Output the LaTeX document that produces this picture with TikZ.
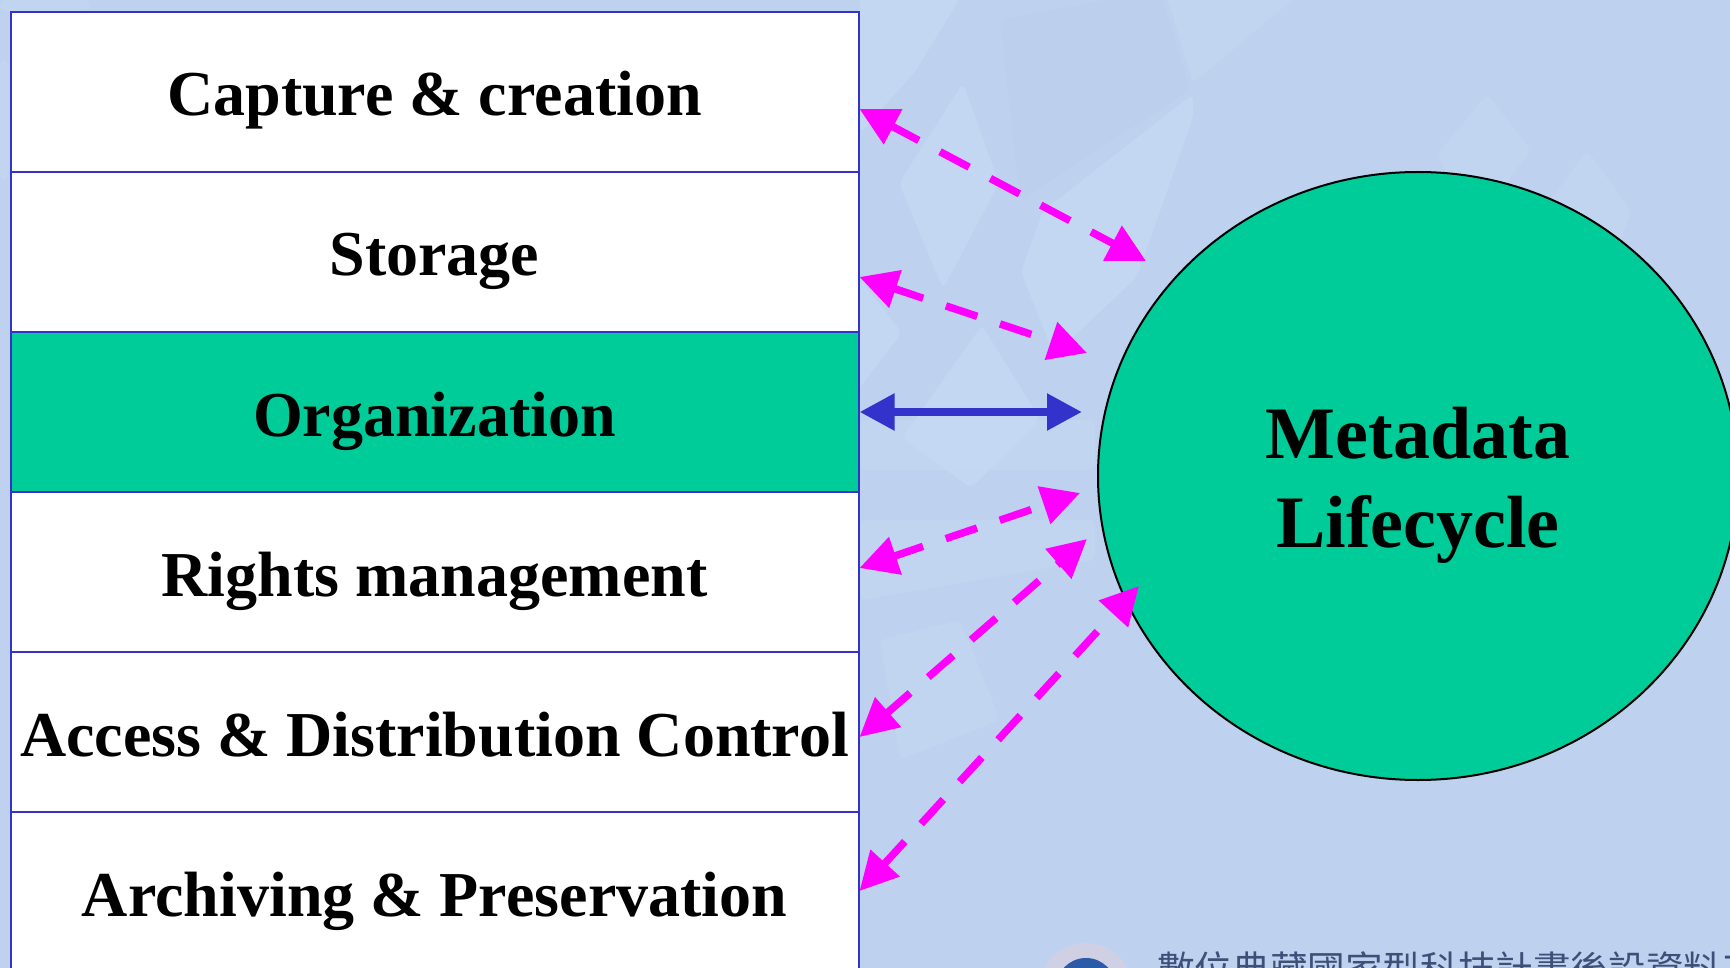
\documentclass[tikz,border=0pt]{standalone}
\usepackage{fontspec}
\setmainfont{Liberation Serif}
\newfontfamily\cjkfont{Noto Sans CJK TC}
\usetikzlibrary{arrows.meta,shapes.geometric}
\definecolor{bgblue}{HTML}{BED2EF}
\definecolor{bglight}{HTML}{C8DCF7}
\definecolor{bgdark}{HTML}{BACEEB}
\definecolor{rowline}{HTML}{3333CC}
\definecolor{teal}{HTML}{00CC99}
\definecolor{magentaline}{HTML}{FF00FF}
\definecolor{footertext}{HTML}{3F5078}
\definecolor{logoring}{HTML}{CFD0E4}
\definecolor{logocore}{HTML}{2A5AA8}
\tikzset{
  rowbox/.style={draw=rowline,line width=2pt,fill=white,minimum width=848pt,minimum height=160pt,inner sep=0pt,
    text height=48pt,text depth=0pt,font=\fontsize{64}{64}\selectfont\bfseries,anchor=north west},
  greenrow/.style={rowbox,fill=teal},
  lifecycle/.style={ellipse,draw=black,line width=2pt,fill=teal,minimum width=640pt,minimum height=608pt,inner sep=0pt,
    align=center,text height=159pt,font=\fontsize{74}{89}\selectfont\bfseries},
  duplex/.style={magentaline,line width=7.5pt,dash pattern=on 33pt off 24pt,dash phase=2pt,
    {Triangle[length=38pt,width=38pt]}-{Triangle[length=38pt,width=38pt]}},
  solidduplex/.style={rowline,line width=8.3pt,{Triangle[length=35pt,width=35pt]}-{Triangle[length=35pt,width=35pt]}},
  bgshape/.style={fill=bglight,rounded corners=6pt,opacity=.5},
  darkshape/.style={fill=bgdark,rounded corners=6pt,opacity=.35}
}
\begin{document}
\begin{tikzpicture}[x=1pt,y=-1pt]
\useasboundingbox (0,0) rectangle (1730,968);
\clip (0,0) rectangle (1730,968);
\fill[bgblue] (0,0) rectangle (1730,968);
% faint background texture
\fill[bgshape] (860,-10) -- (965,-10) -- (915,72) -- (860,133) -- cycle;
\fill[bgshape] (963,83) -- (999,183) -- (943,289) -- (899,183) -- cycle;
\fill[bgshape] (982,325) -- (1040,419) -- (971,488) -- (902,438) -- cycle;
\fill[bgshape] (1043,211) -- (1193,94) -- (1193,117) -- (1137,277) -- (1054,355) -- (1021,272) -- cycle;
\fill[bgshape] (1137,377) -- (1215,289) -- (1260,344) -- (1171,438) -- cycle;
\fill[bgshape,opacity=.35] (1437,155) -- (1487,94) -- (1531,150) -- (1476,222) -- cycle;
\fill[bgshape,opacity=.35] (1543,211) -- (1587,150) -- (1631,211) -- (1598,300) -- cycle;
\fill[bgshape,opacity=.35] (1620,377) -- (1665,311) -- (1706,366) -- (1676,411) -- cycle;
\fill[bgshape,opacity=.35] (1337,277) -- (1382,205) -- (1415,255) -- (1359,294) -- cycle;
\fill[bgshape,opacity=.35] (1165,-10) -- (1304,-10) -- (1193,83) -- cycle;
\fill[bgshape] (850,266) -- (902,333) -- (850,400) -- cycle;
\fill[darkshape] (1000,20) -- (1160,-10) -- (1190,90) -- (1020,200) -- cycle;
\fill[bgshape,opacity=.3] (860,420) -- (1095,420) -- (1095,470) -- (860,470) -- cycle;
\fill[bgshape,opacity=.3] (860,520) -- (1095,520) -- (1095,560) -- (860,600) -- cycle;
\fill[bgshape,opacity=.3] (880,640) -- (960,620) -- (1000,720) -- (900,760) -- cycle;
\fill[bgshape,opacity=.3] (0,0) rectangle (90,11);
\fill[bgshape,opacity=.3] (0,60) rectangle (9,180);
% footer
\fill[logoring] (1086,990) circle[radius=47pt];
\fill[logocore] (1086,988) circle[radius=30pt];
\node[anchor=north west,inner sep=0pt,font=\cjkfont\fontsize{37.6}{38}\selectfont,text=footertext] (footer) at (1157,951) {數位典藏國家型科技計畫後設資料工作組};
% rows
\node[rowbox] (r1) at (9.5,11) {Capture \& creation};
\node[rowbox] (r2) at (9.5,171) {Storage};
\node[greenrow] (r3) at (9.5,331) {Organization};
\node[rowbox] (r4) at (9.5,491) {Rights management};
\node[rowbox] (r5) at (9.5,651) {Access \& Distribution Control};
\node[rowbox] (r6) at (9.5,811) {Archiving \& Preservation};
% lifecycle
\node[lifecycle] (life) at (1418,476) {Metadata\\Lifecycle};
% arrow ends
\coordinate (e1) at (1146,261);
\coordinate (e2) at (1087,353);
\coordinate (e3) at (1082,412);
\coordinate (e4) at (1080,493);
\coordinate (e5) at (1087,539);
\coordinate (e6) at (1139,586);
\draw[duplex] ([yshift=-17pt]r1.east) -- (e1);
\draw[duplex] ([yshift=-25pt]r2.east) -- (e2);
\draw[solidduplex] (r3.east) -- (e3);
\draw[duplex] ([yshift=4pt]r4.east) -- (e4);
\draw[duplex] ([yshift=-5pt]r5.east) -- (e5);
\draw[duplex] ([yshift=1pt]r6.east) -- (e6);
\end{tikzpicture}
\end{document}
